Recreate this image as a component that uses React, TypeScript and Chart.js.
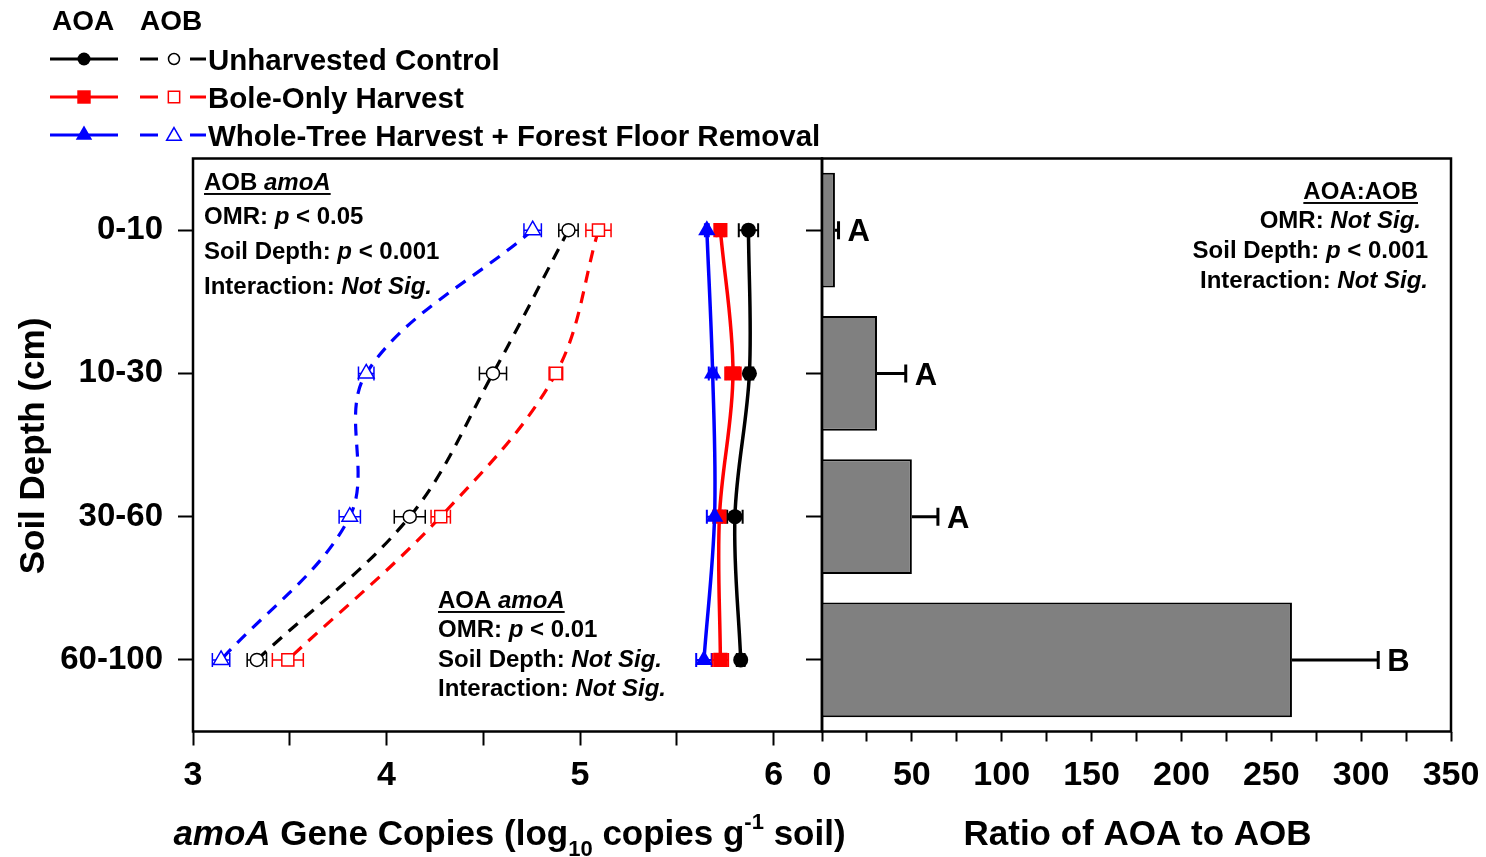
import { useEffect, useRef } from "react";
import { Chart, registerables } from "chart.js";

Chart.register(...registerables);

const FONT = '"Liberation Sans", Arial, Helvetica, sans-serif';
const BLACK = "#000000";
const RED = "#ff0000";
const BLUE = "#0000ff";

// Soil depth classes, plotted top to bottom at positions 1..4
const depthLabels = ["0-10", "10-30", "30-60", "60-100"];
const depthIndex = [1, 2, 3, 4];

const treatmentNames = [
  "Unharvested Control",
  "Bole-Only Harvest",
  "Whole-Tree Harvest + Forest Floor Removal",
];

// AOA amoA, log10 copies g-1 soil (mean and standard error)
const aoaControl = [5.87, 5.875, 5.8, 5.83];
const aoaBoleOnly = [5.725, 5.79, 5.72, 5.725];
const aoaWholeTree = [5.655, 5.685, 5.695, 5.64];
const aoaControlErr = [0.05, 0.02, 0.04, 0.02];
const aoaBoleOnlyErr = [0.02, 0.04, 0.03, 0.04];
const aoaWholeTreeErr = [0.01, 0.02, 0.04, 0.04];

// AOB amoA, log10 copies g-1 soil (mean and standard error)
const aobControl = [4.94, 4.55, 4.12, 3.33];
const aobBoleOnly = [5.095, 4.875, 4.28, 3.49];
const aobWholeTree = [4.755, 3.895, 3.81, 3.145];
const aobControlErr = [0.05, 0.07, 0.08, 0.05];
const aobBoleOnlyErr = [0.065, 0.035, 0.05, 0.08];
const aobWholeTreeErr = [0.045, 0.04, 0.055, 0.045];

// AOA:AOB ratio by depth (mean, standard error, significance group)
const ratioValues = [7.2, 30.6, 50, 261.5];
const ratioErr = [2, 16, 14.5, 48];
const ratioLetters = ["A", "A", "A", "B"];

const copyTicks = [3, 3.5, 4, 4.5, 5, 5.5, 6];
const ratioTicks = [0, 25, 50, 75, 100, 125, 150, 175, 200, 225, 250, 275, 300, 325, 350];

const toPoints = (vals: number[]) => vals.map((v, i) => ({ x: v, y: depthIndex[i] }));

type Run = { t: string; it?: boolean; sub?: boolean; sup?: boolean };

function fontOf(size: number, italic = false) {
  return `${italic ? "italic " : ""}bold ${size}px ${FONT}`;
}

// Draws a line of mixed-style text; y is the vertical centre of the capitals.
function drawRuns(
  ctx: CanvasRenderingContext2D,
  runs: Run[],
  x: number,
  y: number,
  size: number,
  align: "left" | "center" | "right",
  underline = false
) {
  const small = Math.round(size * 0.62);
  const baseline = y + size * 0.36;
  const widths = runs.map((r) => {
    ctx.font = fontOf(r.sub || r.sup ? small : size, r.it);
    return ctx.measureText(r.t).width;
  });
  const total = widths.reduce((a, b) => a + b, 0);
  let cx = align === "left" ? x : align === "right" ? x - total : x - total / 2;
  const x0 = cx;
  ctx.save();
  ctx.fillStyle = BLACK;
  ctx.textAlign = "left";
  ctx.textBaseline = "alphabetic";
  runs.forEach((r, i) => {
    ctx.font = fontOf(r.sub || r.sup ? small : size, r.it);
    const dy = r.sub ? size * 0.32 : r.sup ? -size * 0.45 : 0;
    ctx.fillText(r.t, cx, baseline + dy);
    cx += widths[i];
  });
  if (underline) ctx.fillRect(x0, baseline + size * 0.12, total, Math.max(1.5, size * 0.08));
  ctx.restore();
}

function drawMarker(
  ctx: CanvasRenderingContext2D,
  shape: string,
  x: number,
  y: number,
  r: number,
  color: string,
  filled: boolean
) {
  ctx.save();
  ctx.beginPath();
  if (shape === "circle") {
    ctx.arc(x, y, r, 0, Math.PI * 2);
  } else if (shape === "rect") {
    const s = r * Math.SQRT1_2;
    ctx.rect(x - s, y - s, 2 * s, 2 * s);
  } else {
    ctx.moveTo(x, y - r);
    ctx.lineTo(x + r * Math.sin((2 * Math.PI) / 3), y - r * Math.cos((2 * Math.PI) / 3));
    ctx.lineTo(x + r * Math.sin((4 * Math.PI) / 3), y - r * Math.cos((4 * Math.PI) / 3));
    ctx.closePath();
  }
  if (filled) {
    ctx.fillStyle = color;
    ctx.fill();
  } else {
    ctx.fillStyle = "#ffffff";
    ctx.fill();
    ctx.strokeStyle = color;
    ctx.lineWidth = 1.5;
    ctx.stroke();
  }
  ctx.restore();
}

// Plot frame around the chart area
const framePlugin = {
  id: "frame",
  afterDraw(chart: any) {
    const { ctx, chartArea: ca } = chart;
    ctx.save();
    ctx.strokeStyle = BLACK;
    ctx.lineWidth = 2.5;
    ctx.strokeRect(ca.left, ca.top, ca.right - ca.left, ca.bottom - ca.top);
    ctx.restore();
  },
};

// Horizontal standard-error bars for the gene copy profiles
const profileErrorPlugin = {
  id: "profileErrors",
  beforeDatasetsDraw(chart: any) {
    const { ctx } = chart;
    chart.data.datasets.forEach((ds: any, i: number) => {
      if (!ds.errors) return;
      const meta = chart.getDatasetMeta(i);
      const xs = chart.scales[meta.xAxisID];
      const ys = chart.scales[meta.yAxisID];
      ctx.save();
      ctx.strokeStyle = ds.borderColor;
      ctx.lineWidth = ds.errorWidth || 1.5;
      ds.data.forEach((p: any, j: number) => {
        const e = ds.errors[j];
        const y = ys.getPixelForValue(p.y);
        const x0 = xs.getPixelForValue(p.x - e);
        const x1 = xs.getPixelForValue(p.x + e);
        ctx.beginPath();
        ctx.moveTo(x0, y);
        ctx.lineTo(x1, y);
        ctx.moveTo(x0, y - 7);
        ctx.lineTo(x0, y + 7);
        ctx.moveTo(x1, y - 7);
        ctx.lineTo(x1, y + 7);
        ctx.stroke();
      });
      ctx.restore();
    });
  },
};

// Legend, statistics boxes and axis titles of the gene copy panel
const profileTextPlugin = {
  id: "profileText",
  afterDraw(chart: any) {
    const { ctx, chartArea: ca } = chart;
    const lx = ca.left - 143;

    // legend
    drawRuns(ctx, [{ t: "AOA" }], lx + 2, 20, 28, "left");
    drawRuns(ctx, [{ t: "AOB" }], lx + 90, 20, 28, "left");
    const legendRows = [
      { color: BLACK, shape: "circle", rf: 6.5, ro: 5.5 },
      { color: RED, shape: "rect", rf: 9.5, ro: 8 },
      { color: BLUE, shape: "triangle", rf: 9.5, ro: 8.5 },
    ];
    legendRows.forEach((row, i) => {
      const y = 59 + i * 38;
      ctx.save();
      ctx.strokeStyle = row.color;
      ctx.lineWidth = 3;
      ctx.beginPath();
      ctx.moveTo(lx, y);
      ctx.lineTo(lx + 68, y);
      ctx.moveTo(lx + 90, y);
      ctx.lineTo(lx + 108, y);
      ctx.moveTo(lx + 140, y);
      ctx.lineTo(lx + 156, y);
      ctx.stroke();
      ctx.restore();
      drawMarker(ctx, row.shape, lx + 34, y, row.rf, row.color, true);
      drawMarker(ctx, row.shape, lx + 124, y + (row.shape === "triangle" ? 1 : 0), row.ro, row.color, false);
      drawRuns(ctx, [{ t: treatmentNames[i] }], lx + 158, y, 29.5, "left");
    });

    // AOB statistics
    const bx = ca.left + 11;
    drawRuns(ctx, [{ t: "AOB " }, { t: "amoA", it: true }], bx, ca.top + 23, 24, "left", true);
    drawRuns(ctx, [{ t: "OMR: " }, { t: "p", it: true }, { t: " < 0.05" }], bx, ca.top + 57, 24, "left");
    drawRuns(ctx, [{ t: "Soil Depth: " }, { t: "p", it: true }, { t: " < 0.001" }], bx, ca.top + 92, 24, "left");
    drawRuns(ctx, [{ t: "Interaction: " }, { t: "Not Sig.", it: true }], bx, ca.top + 127, 24, "left");

    // AOA statistics
    const ax = ca.left + 245;
    drawRuns(ctx, [{ t: "AOA " }, { t: "amoA", it: true }], ax, ca.top + 441, 24, "left", true);
    drawRuns(ctx, [{ t: "OMR: " }, { t: "p", it: true }, { t: " < 0.01" }], ax, ca.top + 470, 24, "left");
    drawRuns(ctx, [{ t: "Soil Depth: " }, { t: "Not Sig.", it: true }], ax, ca.top + 500, 24, "left");
    drawRuns(ctx, [{ t: "Interaction: " }, { t: "Not Sig.", it: true }], ax, ca.top + 529, 24, "left");

    // x-axis title
    drawRuns(
      ctx,
      [
        { t: "amoA", it: true },
        { t: " Gene Copies (log" },
        { t: "10", sub: true },
        { t: " copies g" },
        { t: "-1", sup: true },
        { t: " soil)" },
      ],
      (ca.left + ca.right) / 2 + 2,
      ca.bottom + 101,
      35,
      "center"
    );

    // y-axis title
    ctx.save();
    ctx.translate(31, (ca.top + ca.bottom) / 2 + 1);
    ctx.rotate(-Math.PI / 2);
    drawRuns(ctx, [{ t: "Soil Depth (cm)" }], 0, 0, 35, "center");
    ctx.restore();
  },
};

// Error bars, group letters, statistics and title of the ratio panel
const ratioTextPlugin = {
  id: "ratioText",
  afterDatasetsDraw(chart: any) {
    const { ctx } = chart;
    const xs = chart.scales.x;
    const ys = chart.scales.y;
    ratioValues.forEach((v, i) => {
      const y = ys.getPixelForValue(depthIndex[i]);
      const x0 = xs.getPixelForValue(v);
      const x1 = xs.getPixelForValue(v + ratioErr[i]);
      ctx.save();
      ctx.strokeStyle = BLACK;
      ctx.lineWidth = 3;
      ctx.beginPath();
      ctx.moveTo(x0, y);
      ctx.lineTo(x1, y);
      ctx.moveTo(x1, y - 9);
      ctx.lineTo(x1, y + 9);
      ctx.stroke();
      ctx.restore();
      drawRuns(ctx, [{ t: ratioLetters[i] }], x1 + 9, y, 31, "left");
    });
  },
  afterDraw(chart: any) {
    const { ctx, chartArea: ca } = chart;
    drawRuns(ctx, [{ t: "AOA:AOB" }], ca.right - 33, ca.top + 32, 24, "right", true);
    drawRuns(ctx, [{ t: "OMR: " }, { t: "Not Sig.", it: true }], ca.right - 30, ca.top + 61, 24, "right");
    drawRuns(ctx, [{ t: "Soil Depth: " }, { t: "p", it: true }, { t: " < 0.001" }], ca.right - 23, ca.top + 91, 24, "right");
    drawRuns(ctx, [{ t: "Interaction: " }, { t: "Not Sig.", it: true }], ca.right - 23, ca.top + 121, 24, "right");
    drawRuns(ctx, [{ t: "Ratio of AOA to AOB" }], (ca.left + ca.right) / 2 + 1, ca.bottom + 101, 35, "center");
  },
};

const tickFont = (size: number) => ({ family: FONT, size, weight: "bold" as const });

// Keeps the plot area fixed: labels at the ends may overhang into the page margin
const fixHeight = (h: number) => (s: any) => {
  s.height = h;
  s.paddingLeft = 0;
  s.paddingRight = 0;
};
const fixWidth = (w: number) => (s: any) => {
  s.width = w;
  s.paddingTop = 0;
  s.paddingBottom = 0;
};

const TOP = 158.5;
const XAXIS_H = 125.5;

function profileConfig(): any {
  const solid = (data: number[], errors: number[], color: string, shape: string, r: number) => ({
    data: toPoints(data),
    errors,
    errorWidth: 2,
    borderColor: color,
    backgroundColor: color,
    pointBackgroundColor: color,
    pointBorderWidth: 0,
    pointStyle: shape,
    pointRadius: r,
    borderWidth: 3.5,
    tension: 0.35,
  });
  const dashed = (data: number[], errors: number[], color: string, shape: string, r: number) => ({
    data: toPoints(data),
    errors,
    errorWidth: 1.5,
    borderColor: color,
    backgroundColor: "#ffffff",
    pointBackgroundColor: "#ffffff",
    pointBorderColor: color,
    pointBorderWidth: 1.5,
    pointStyle: shape,
    pointRadius: r,
    borderWidth: 3.2,
    borderDash: [12, 9],
    tension: 0.35,
  });
  return {
    type: "line",
    data: {
      datasets: [
        solid(aoaWholeTree, aoaWholeTreeErr, BLUE, "triangle", 10),
        solid(aoaBoleOnly, aoaBoleOnlyErr, RED, "rect", 10),
        solid(aoaControl, aoaControlErr, BLACK, "circle", 7.5),
        dashed(aobWholeTree, aobWholeTreeErr, BLUE, "triangle", 9),
        dashed(aobBoleOnly, aobBoleOnlyErr, RED, "rect", 8.5),
        dashed(aobControl, aobControlErr, BLACK, "circle", 6.5),
      ],
    },
    options: {
      responsive: false,
      animation: false,
      events: [],
      layout: { padding: { left: 0, top: TOP, right: 38, bottom: 0 } },
      plugins: { legend: { display: false }, tooltip: { enabled: false } },
      scales: {
        x: {
          type: "linear",
          min: 3,
          max: 6.25,
          afterBuildTicks: (s: any) => {
            s.ticks = copyTicks.map((v) => ({ value: v }));
          },
          afterFit: fixHeight(XAXIS_H),
          ticks: {
            autoSkip: false,
            maxRotation: 0,
            padding: 10,
            color: BLACK,
            font: tickFont(34),
            callback: (v: number) => (Number.isInteger(v) ? String(v) : ""),
          },
          grid: { drawOnChartArea: false, drawTicks: true, tickLength: 14, tickWidth: 2, tickColor: BLACK },
          border: { display: false },
        },
        y: {
          type: "linear",
          min: 0.5,
          max: 4.5,
          reverse: true,
          offset: false,
          afterBuildTicks: (s: any) => {
            s.ticks = depthIndex.map((v) => ({ value: v }));
          },
          afterFit: fixWidth(193),
          ticks: {
            autoSkip: false,
            padding: 15,
            color: BLACK,
            font: tickFont(33),
            callback: (v: number) => depthLabels[depthIndex.indexOf(v)] ?? "",
          },
          grid: { drawOnChartArea: false, drawTicks: true, tickLength: 15, tickWidth: 2, tickColor: BLACK },
          border: { display: false },
        },
      },
    },
    plugins: [profileErrorPlugin, profileTextPlugin, framePlugin],
  };
}

function ratioConfig(): any {
  return {
    type: "bar",
    data: {
      datasets: [
        {
          data: ratioValues.map((v, i) => ({ x: v, y: depthIndex[i] })),
          backgroundColor: "#808080",
          borderColor: BLACK,
          borderWidth: 2,
          barPercentage: 0.8,
          categoryPercentage: 1,
        },
      ],
    },
    options: {
      indexAxis: "y",
      responsive: false,
      animation: false,
      events: [],
      layout: { padding: { left: 0, top: TOP, right: 35, bottom: 0 } },
      plugins: { legend: { display: false }, tooltip: { enabled: false } },
      scales: {
        x: {
          type: "linear",
          min: 0,
          max: 350,
          afterBuildTicks: (s: any) => {
            s.ticks = ratioTicks.map((v) => ({ value: v }));
          },
          afterFit: fixHeight(XAXIS_H),
          ticks: {
            autoSkip: false,
            maxRotation: 0,
            padding: 14,
            color: BLACK,
            font: tickFont(34),
            callback: (v: number) => (v % 50 === 0 ? String(v) : ""),
          },
          grid: { drawOnChartArea: false, drawTicks: true, tickLength: 10, tickWidth: 2, tickColor: BLACK },
          border: { display: false },
        },
        y: {
          type: "linear",
          min: 0.5,
          max: 4.5,
          reverse: true,
          offset: false,
          afterBuildTicks: (s: any) => {
            s.ticks = depthIndex.map((v) => ({ value: v }));
          },
          afterFit: fixWidth(122),
          ticks: { display: false },
          grid: {
            offset: false,
            drawOnChartArea: false,
            drawTicks: true,
            tickLength: 16,
            tickWidth: 2,
            tickColor: BLACK,
          },
          border: { display: false },
        },
      },
    },
    plugins: [ratioTextPlugin, framePlugin],
  };
}

export default function App() {
  const leftRef = useRef<HTMLCanvasElement>(null);
  const rightRef = useRef<HTMLCanvasElement>(null);

  useEffect(() => {
    const left = new Chart(leftRef.current as HTMLCanvasElement, profileConfig());
    const right = new Chart(rightRef.current as HTMLCanvasElement, ratioConfig());
    return () => {
      left.destroy();
      right.destroy();
    };
  }, []);

  return (
    <div style={{ position: "absolute", left: 0, top: 0, width: 1486, height: 857, background: "#ffffff" }}>
      <canvas
        ref={leftRef}
        width={860}
        height={857}
        style={{ position: "absolute", left: 0, top: 0, width: 860, height: 857 }}
      />
      <canvas
        ref={rightRef}
        width={786}
        height={857}
        style={{ position: "absolute", left: 700, top: 0, width: 786, height: 857 }}
      />
    </div>
  );
}
